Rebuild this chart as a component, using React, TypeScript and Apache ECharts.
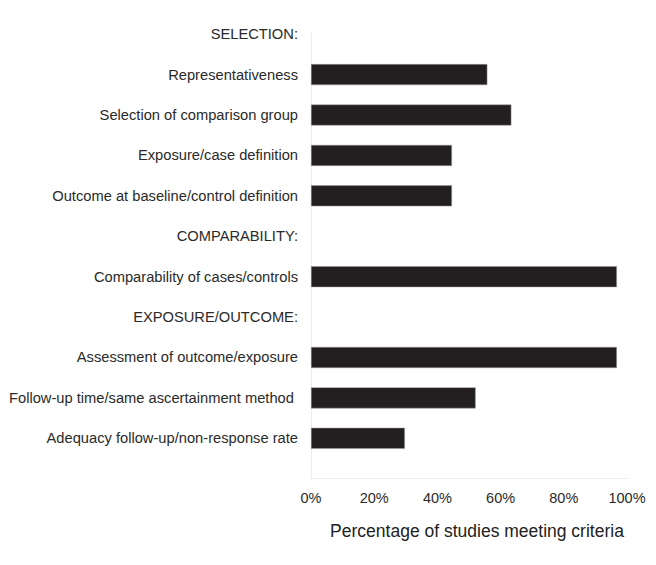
import React, { useEffect, useRef } from "react";
import * as echarts from "echarts";

const categories = [
  "SELECTION:",
  "Representativeness",
  "Selection of comparison group",
  "Exposure/case definition",
  "Outcome at baseline/control definition",
  "COMPARABILITY:",
  "Comparability of cases/controls",
  "EXPOSURE/OUTCOME:",
  "Assessment of outcome/exposure",
  "Follow-up time/same ascertainment method ",
  "Adequacy follow-up/non-response rate",
];

const values: (number | null)[] = [null, 55.8, 63.4, 44.6, 44.6, null, 96.8, null, 96.8, 52.1, 29.7];

const xTicks = [0, 20, 40, 60, 80, 100];

export default function App() {
  const ref = useRef<HTMLDivElement>(null);
  useEffect(() => {
    const chart = echarts.init(ref.current!, null, { renderer: "svg" });
    const font = "Liberation Sans, Arial, Helvetica, sans-serif";
    chart.setOption({
      animation: false,
      backgroundColor: "#ffffff",
      grid: { left: 311, right: 29, top: 14, bottom: 106.5, containLabel: false },
      xAxis: {
        type: "value",
        min: xTicks[0],
        max: xTicks[xTicks.length - 1],
        interval: 20,
        offset: 19.5,
        axisLine: { show: true, lineStyle: { color: "#ececec", width: 1 } },
        axisTick: { show: false },
        splitLine: { show: false },
        axisLabel: {
          formatter: "{value}%",
          color: "#2a2a2a",
          fontSize: 14.5,
          fontFamily: font,
          margin: 12,
        },
        name: "Percentage of studies meeting criteria",
        nameLocation: "middle",
        nameGap: 44,
        nameTextStyle: {
          color: "#222",
          fontSize: 17.5,
          fontFamily: font,
          padding: [0, 0, 0, 16],
        },
      },
      yAxis: {
        type: "category",
        data: categories,
        inverse: true,
        axisLine: { show: false },
        axisTick: { show: false },
        axisLabel: {
          color: "#2a2a2a",
          fontSize: 14.7,
          fontFamily: font,
          margin: 13,
        },
      },
      graphic: [
        {
          type: "line",
          shape: { x1: 311.5, y1: 33, x2: 311.5, y2: 478 },
          style: { stroke: "#ececec", lineWidth: 1 },
          z: -1,
        },
      ],
      series: [
        {
          type: "bar",
          data: values,
          barWidth: 21,
          itemStyle: { color: "#231f20", borderColor: "#9a9a9a", borderWidth: 0.5 },
        },
      ],
    });
    return () => chart.dispose();
  }, []);
  return (
    <div
      ref={ref}
      style={{ position: "absolute", left: 0, top: 0, width: 656, height: 565 }}
    />
  );
}
